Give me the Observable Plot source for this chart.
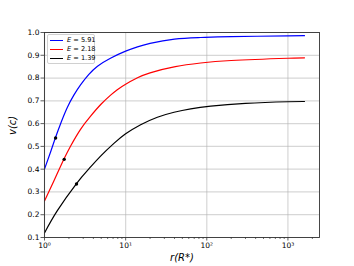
<!DOCTYPE html>
<html><head><meta charset="utf-8">
<script src="https://cdn.jsdelivr.net/npm/d3@7"></script>
<script src="https://cdn.jsdelivr.net/npm/@observablehq/plot@0.6"></script>
<style>
body{margin:0;background:#fff;}
#wrap{position:relative;width:354px;height:266px;font-family:"DejaVu Sans",sans-serif;}
#legend{position:absolute;left:47px;top:34px;width:48px;height:30px;border:1px solid #d0d0d0;border-radius:2px;background:rgba(255,255,255,0.85);box-sizing:border-box;}
.row{position:absolute;left:0;height:9px;width:100%;}
.sw{position:absolute;left:2px;width:12.5px;top:4px;height:0;border-top:1.3px solid;}
.lab{position:absolute;left:19px;top:0px;font-size:6.6px;line-height:9px;color:#000;white-space:nowrap;}
</style></head><body><div id="wrap"></div>
<script>
const seriesNames = ["5.91", "2.18", "1.39"];
const seriesColors = ["#0000ff", "#ff0000", "#000000"];

const rBlue = [1, 1.2, 1.37, 1.6, 1.91, 2.3, 2.78, 3.5, 4.5, 6.5, 10, 14, 20, 40, 84, 200, 1000, 1600];
const vBlue = [0.40, 0.48, 0.54, 0.605, 0.671, 0.725, 0.77, 0.815, 0.852, 0.887, 0.918, 0.937, 0.952, 0.971, 0.978, 0.982, 0.985, 0.986];

const rRed = [1, 1.3, 1.73, 2.1, 2.78, 3.7, 5, 6.53, 7.89, 10, 14, 20, 41, 84, 200, 1000, 1600];
const vRed = [0.26, 0.347, 0.443, 0.502, 0.575, 0.633, 0.686, 0.725, 0.749, 0.773, 0.801, 0.823, 0.850, 0.866, 0.877, 0.887, 0.889];

const rBlack = [1, 1.44, 2.48, 3.5, 4.91, 7.17, 10, 15.3, 24.6, 39.5, 63.4, 112, 300, 1000, 1600];
const vBlack = [0.12, 0.218, 0.337, 0.400, 0.457, 0.513, 0.555, 0.595, 0.628, 0.650, 0.665, 0.677, 0.689, 0.696, 0.697];

const markR = [1.37, 1.75, 2.48];
const markV = [0.537, 0.443, 0.335];

const xMajor = [1, 10, 100, 1000];
const xMajorLabels = ["10\u2070", "10\u00b9", "10\u00b2", "10\u00b3"];
const xMinor = [2,3,4,5,6,7,8,9,20,30,40,50,60,70,80,90,200,300,400,500,600,700,800,900,2000];
const yTicks = [0.1,0.2,0.3,0.4,0.5,0.6,0.7,0.8,0.9,1.0];

const rs = [rBlue, rRed, rBlack], vs = [vBlue, vRed, vBlack];
const data = [];
seriesNames.forEach((s, i) => rs[i].forEach((r, j) => data.push({series: s, r, v: vs[i][j]})));
const marks = markR.map((r, i) => ({r, v: markV[i]}));

const chart = Plot.plot({
  width: 354, height: 266,
  marginLeft: 44, marginRight: 35, marginTop: 32, marginBottom: 29,
  style: {fontFamily: "DejaVu Sans", fontSize: "7.5px", color: "#000", background: "#fff"},
  x: {type: "log", domain: [1, 2450]},
  y: {domain: [0.1, 1.0]},
  color: {domain: seriesNames, range: seriesColors},
  marks: [
    Plot.gridX(xMajor, {stroke: "#b0b0b0", strokeOpacity: 0.5, strokeWidth: 1.2}),
    Plot.gridY(yTicks, {stroke: "#b0b0b0", strokeOpacity: 0.5, strokeWidth: 1.2}),
    Plot.axisX(xMinor, {tickSize: 2, tickFormat: () => "", stroke: "#333", strokeWidth: 0.7, label: null}),
    Plot.axisX(xMajor, {tickSize: 3.5, tickPadding: 1.5, tickFormat: (d) => xMajorLabels[xMajor.indexOf(d)], stroke: "#333", strokeWidth: 0.8, label: null, fontSize: 7.5}),
    Plot.axisY(yTicks, {tickSize: 3.5, tickPadding: 1.5, tickFormat: d3.format(".1f"), stroke: "#333", strokeWidth: 0.8, label: null, fontSize: 7.5}),
    Plot.line(data, {x: "r", y: "v", z: "series", stroke: "series", strokeWidth: 1.2, curve: "natural"}),
    Plot.dot(marks, {x: "r", y: "v", r: 1.7, fill: "#000"}),
    Plot.frame({stroke: "#333", strokeWidth: 0.9}),
    Plot.text(["r(R*)"], {frameAnchor: "bottom", dy: 23, fontSize: 10, fontStyle: "italic"}),
    Plot.text(["v(c)"], {frameAnchor: "left", dx: -32, rotate: -90, fontSize: 10, fontStyle: "italic"})
  ]
});
document.getElementById("wrap").appendChild(chart);

const leg = document.createElement("div");
leg.id = "legend";
seriesNames.forEach((s, i) => {
  const row = document.createElement("div");
  row.className = "row";
  row.style.top = (1 + i * 9) + "px";
  const sw = document.createElement("div");
  sw.className = "sw";
  sw.style.borderTopColor = seriesColors[i];
  const lab = document.createElement("div");
  lab.className = "lab";
  lab.innerHTML = "<i>E</i> = " + s;
  row.appendChild(sw); row.appendChild(lab);
  leg.appendChild(row);
});
document.getElementById("wrap").appendChild(leg);
</script></body></html>
